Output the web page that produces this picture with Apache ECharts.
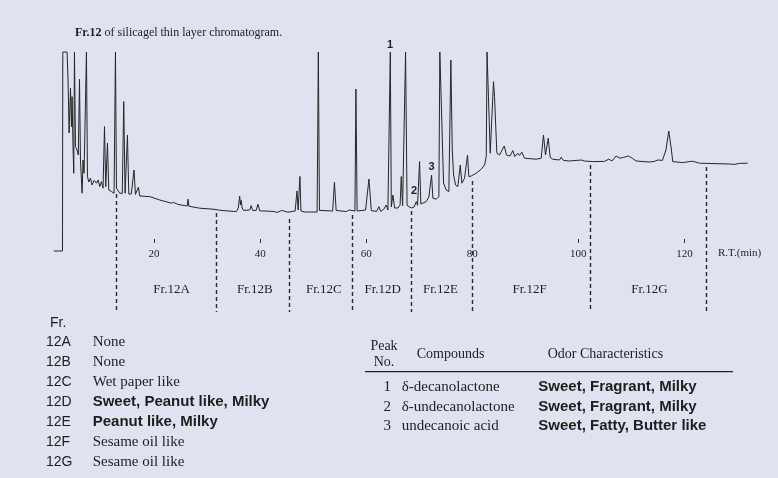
<!DOCTYPE html>
<html>
<head>
<meta charset="utf-8">
<script src="https://cdn.jsdelivr.net/npm/echarts@6/dist/echarts.min.js"></script>
<style>
html, body { margin: 0; padding: 0; background: #dfe3ef; }
#chart { width: 778px; height: 478px; }
</style>
</head>
<body>
<div id="chart"></div>
<script>
// retention time (min) and detector response (arbitrary, 100 = off scale)
let chromT = [1.09, 2.73, 2.79, 3.60, 3.79, 3.98, 4.24, 4.43, 4.54, 4.73, 4.86, 4.99, 5.18, 5.48, 5.71, 5.94, 6.12, 6.43, 6.61, 6.80,
  7.12, 7.25, 7.44, 7.69, 8.01, 8.31, 8.69, 9.14, 9.44, 9.76, 10.08, 10.38, 10.65, 10.89, 11.21, 11.46, 11.97, 12.46, 12.72, 12.91,
  13.25, 13.53, 14.0, 14.28, 14.53, 14.75, 14.98, 15.23, 15.70, 16.22, 16.49, 16.79, 17.05, 17.30, 19.18, 21.07, 23.27, 23.70, 24.46, 26.25,
  26.40, 26.57, 28.60, 31.11, 33.0, 35.52, 35.88, 36.14, 36.29, 36.42, 36.61, 36.89, 38.03, 38.31, 38.59, 39.25, 39.59, 39.91, 42.42, 43.30,
  44.06, 45.24, 46.60, 46.94, 47.16, 47.35, 47.50, 47.69, 48.39, 50.74, 50.97, 51.18, 51.5, 53.67, 54.01, 54.33, 56.25, 56.77, 57.06, 57.87,
  58.06, 58.28, 59.88, 60.51, 60.96, 61.96, 62.39, 62.71, 63.28, 63.78, 64.09, 64.37, 64.54, 64.73, 65.03, 65.35, 65.97, 66.39, 66.61, 66.86,
  67.23, 67.42, 67.70, 68.04, 68.50, 69.02, 69.44, 69.68, 69.93, 70.06, 70.30, 71.32, 71.81, 72.32, 72.57, 73.21, 73.70, 73.88, 74.11, 74.58,
  75.09, 75.58, 75.96, 76.22, 76.47, 76.85, 77.28, 77.73, 78.03, 78.54, 79.10, 79.35, 79.80, 80.74, 81.69, 82.31, 82.63, 82.78, 83.0, 83.38,
  83.63, 84.0, 84.19, 84.32, 84.63, 85.13, 86.02, 86.45, 87.11, 87.64, 88.02, 88.58, 88.90, 89.34, 89.84, 92.05, 92.99, 93.42, 93.80, 94.09,
  94.31, 94.69, 95.18, 96.44, 96.76, 97.19, 98.32, 100.53, 101.15, 102.71, 104.92, 105.73, 106.33, 107.12, 107.84, 108.50, 109.44, 110.2, 110.89, 113.40,
  114.34, 114.96, 115.85, 116.51, 117.04, 117.23, 117.55, 117.79, 119.62, 121.56, 122.82, 128.47, 129.41, 130.35, 131.92];
let chromV = [0.5, 0.5, 100, 100, 84.5, 59.5, 82, 62.7, 77.7, 51, 39.4, 100, 52.7, 51, 48.5, 86.4, 46, 29.4, 46, 39.4,
  39.5, 100, 37.7, 35, 36.9, 33.5, 35.8, 34.4, 36, 32.7, 35.2, 31.9, 62.7, 32.7, 54.4, 31, 30.2, 29.4, 100, 31.9,
  30.5, 29.4, 29.3, 75.2, 29.4, 30, 58.5, 29, 29, 41, 28.8, 29.5, 32.4, 28, 27.7, 26, 24.4, 24.8, 23.8, 23,
  26.4, 22.9, 21.9, 21.4, 20.7, 20.2, 22, 28, 23.5, 25.8, 22, 20.8, 21, 23.2, 20.8, 20.8, 23.9, 20.6, 20.3, 19.8,
  20.8, 19.9, 20.5, 30.5, 21, 21, 37.8, 20.5, 20, 20, 100, 20.8, 20, 20.5, 34.9, 20.8, 20.2, 21, 20.2, 20.5,
  81.5, 20.5, 21, 36.5, 20.7, 20.3, 22.7, 20.3, 21.3, 23.5, 21, 21.5, 100, 22.5, 28.5, 22, 22, 23.5, 37.7, 23,
  23, 100, 23.3, 22.7, 22, 22.5, 25.2, 23.3, 23.5, 45.2, 24, 25.2, 27.5, 38.5, 26.9, 26.4, 27.7, 100, 100, 34.5,
  31, 30.2, 96, 51, 38.5, 33.5, 32.7, 43.5, 34.4, 36.9, 48.5, 37.7, 38, 39.4, 41.4, 43.5, 47.7, 100, 100, 49.4,
  48.5, 85.2, 77.7, 76.9, 49.4, 48.5, 53, 48.5, 48, 50.7, 47.7, 49.4, 48.3, 49.9, 46.9, 46.4, 46.9, 58.5, 48.5, 48.5,
  56.9, 47.3, 46.4, 46, 47.4, 45.8, 45.5, 46, 45.5, 45.2, 45.3, 46.4, 45.5, 48, 46.9, 47.3, 48, 46.8, 45.5, 45,
  45.3, 46, 45.8, 51, 60.5, 60.5, 51, 45.2, 44.7, 45.4, 44.4, 44, 43.8, 44.3, 44.4];

let axisTicks = [20, 40, 60, 100, 120];
let axisLabels = [20, 40, 60, 80, 100, 120];

// fraction cut points (min) and where the dashed line starts above
let cutT = [12.91, 31.75, 45.43, 57.38, 68.50, 79.99, 102.28, 124.08];
let cutTop = [29, 19.5, 16.5, 18.5, 20.5, 35.5, 43.5, 42.5];
let cutBottom = -30;

let fracNames = ['Fr.12A', 'Fr.12B', 'Fr.12C', 'Fr.12D', 'Fr.12E', 'Fr.12F', 'Fr.12G'];
let fracLabelT = [23.3, 39.0, 52.0, 63.1, 74.0, 90.8, 113.4];
let fracLabelV = -19;

let peakNames = ['1', '2', '3'];
let peakLabelT = [64.5, 69.0, 72.3];
let peakLabelV = [103.6, 30.5, 42.3];

let fracCodes = ['12A', '12B', '12C', '12D', '12E', '12F', '12G'];
let fracOdors = ['None', 'None', 'Wet paper like', 'Sweet, Peanut like, Milky', 'Peanut like, Milky', 'Sesame oil like', 'Sesame oil like'];
let fracBold = [false, false, false, true, true, false, false];

let peakNo = ['1', '2', '3'];
let compounds = ['\u03b4-decanolactone', '\u03b4-undecanolactone', 'undecanoic acid'];
let odors = ['Sweet, Fragrant, Milky', 'Sweet, Fragrant, Milky', 'Sweet, Fatty, Butter like'];

let serif = '"Liberation Serif", "DejaVu Serif", serif';
let sans = '"Liberation Sans", Arial, sans-serif';
let ink = '#1e1e1e';

let chart = echarts.init(document.getElementById('chart'));

let graphics = [];
function txt(x, y, text, font, align) {
    graphics.push({
        type: 'text', x: x, y: y,
        style: { text: text, font: font, fill: ink, align: align || 'left', verticalAlign: 'middle' }
    });
}
txt(718, 253, 'R.T.(min)', '11px ' + serif);
// left table
txt(50, 323, 'Fr.', '14px ' + sans);
fracCodes.forEach(function (c, i) {
    let y = 342.3 + i * 20;
    txt(46, y, c, '14px ' + sans);
    txt(92.7, y, fracOdors[i], fracBold[i] ? 'bold 15px ' + sans : '15px ' + serif);
});
// right table
txt(384, 346.7, 'Peak', '14px ' + serif, 'center');
txt(384, 362.3, 'No.', '14px ' + serif, 'center');
txt(416.7, 354, 'Compounds', '14px ' + serif);
txt(547.7, 354, 'Odor Characteristics', '14px ' + serif);
graphics.push({
    type: 'line',
    shape: { x1: 365, y1: 371.7, x2: 733, y2: 371.7 },
    style: { stroke: '#222', lineWidth: 1.3 }
});
peakNo.forEach(function (p, i) {
    let y = 387.3 + i * 19.4;
    txt(391, y, p, '15px ' + serif, 'right');
    txt(401.7, y, compounds[i], '15px ' + serif);
    txt(538.3, y, odors[i], 'bold 15px ' + sans);
});

let option = {
    backgroundColor: '#dfe3ef',
    animation: false,
    title: {
        text: '{b|Fr.12} of silicagel thin layer chromatogram.',
        left: 70,
        top: 22,
        textStyle: {
            fontFamily: serif, fontSize: 12, fontWeight: 'normal', color: ink,
            rich: { b: { fontFamily: serif, fontSize: 12, fontWeight: 'bold', color: ink } }
        }
    },
    grid: { left: 48, right: 14, top: 32, bottom: 162 },
    xAxis: {
        type: 'value',
        min: 0,
        max: 135,
        offset: -73,
        axisLine: { show: false, onZero: false },
        splitLine: { show: false },
        axisTick: {
            show: true,
            inside: true,
            length: 4,
            customValues: axisTicks,
            lineStyle: { color: '#333', width: 1 }
        },
        axisLabel: {
            customValues: axisLabels,
            margin: 6,
            fontFamily: serif,
            fontSize: 11,
            color: ink
        }
    },
    yAxis: {
        type: 'value',
        show: false,
        min: -32,
        max: 110,
        splitLine: { show: false }
    },
    series: [
        {
            type: 'line',
            data: chromT.map(function (t, i) { return [t, chromV[i]]; }),
            showSymbol: false,
            lineStyle: { color: '#262626', width: 1 },
            markLine: {
                silent: true,
                symbol: 'none',
                label: { show: false },
                lineStyle: { color: '#2a2a2a', width: 1.4, type: [4, 3] },
                data: cutT.map(function (t, i) {
                    return [{ coord: [t, cutTop[i]] }, { coord: [t, cutBottom] }];
                })
            }
        },
        {
            type: 'scatter',
            symbolSize: 0,
            itemStyle: { opacity: 1 },
            data: fracNames.map(function (n, i) { return { name: n, value: [fracLabelT[i], fracLabelV] }; }),
            label: {
                show: true, position: 'inside', formatter: '{b}', opacity: 1,
                fontFamily: serif, fontSize: 13, color: ink
            }
        },
        {
            type: 'scatter',
            symbolSize: 0,
            clip: false,
            itemStyle: { opacity: 1 },
            data: peakNames.map(function (n, i) { return { name: n, value: [peakLabelT[i], peakLabelV[i]] }; }),
            label: {
                show: true, position: 'inside', formatter: '{b}', opacity: 1,
                fontFamily: sans, fontSize: 11, fontWeight: 'bold', color: ink
            }
        }
    ],
    graphic: graphics
};
chart.setOption(option);
</script>
</body>
</html>
